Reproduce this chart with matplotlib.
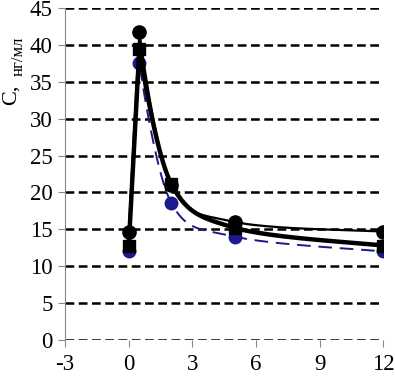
import numpy as np
import matplotlib
matplotlib.use("Agg")
import matplotlib.pyplot as plt

plt.rcParams['font.family'] = ['Liberation Serif', 'DejaVu Serif']
plt.rcParams['axes.unicode_minus'] = False

# time points and concentrations (ng/ml)
t = [0, 0.5, 2, 5, 12]
c_circle = [14.7, 41.7, 21.0, 16.0, 14.7]
c_square = [12.8, 39.5, 21.2, 15.2, 12.8]
c_blue = [12.0, 37.5, 18.6, 14.0, 12.0]

x_ticks = [-3, 0, 3, 6, 9, 12]
y_ticks = list(range(0, 50, 5))

# rough screen scale (px per data unit), smoothing is done in screen space like Excel
SX, SY = 21.2, 7.38


def smooth(x, y, n=40):
    x = np.asarray(x, float) * SX
    y = np.asarray(y, float) * SY
    P = np.column_stack([x, y])
    m = len(P)
    tang = np.zeros_like(P)
    for i in range(m):
        a = P[max(i - 1, 0)]
        b = P[min(i + 1, m - 1)]
        tang[i] = (b - a) / 6
        # keep the peak sharp
        if 0 < i < m - 1 and (y[i] - y[i - 1]) * (y[i + 1] - y[i]) < 0:
            tang[i] = 0
    s = np.linspace(0, 1, n)[:, None]
    xs, ys = [], []
    for i in range(m - 1):
        p1, p2 = P[i], P[i + 1]
        b1 = p1 + tang[i]
        b2 = p2 - tang[i + 1]
        pts = (1 - s) ** 3 * p1 + 3 * (1 - s) ** 2 * s * b1 + 3 * (1 - s) * s ** 2 * b2 + s ** 3 * p2
        xs.extend(pts[:, 0])
        ys.extend(pts[:, 1])
    return np.array(xs) / SX, np.array(ys) / SY


fig = plt.figure(figsize=(3.95, 3.79), dpi=100)
ax = fig.add_axes([0.165, 0.103, 0.805, 0.876])

for yv in y_ticks:
    ax.axhline(yv, color='black', lw=1.8, ls=(0, (3.5, 1.8)), zorder=1)

xb, yb = smooth(t, c_blue)
ax.plot(xb, yb, color='#1a1a8c', lw=1.4, ls=(0, (7, 4)), zorder=2)
ax.plot(t, c_blue, 'o', color='#1a1a8c', ms=9, zorder=3)

xs, ys = smooth(t, c_square)
ax.plot(xs, ys, color='black', lw=3.2, zorder=4)
ax.plot(t, c_square, 's', color='black', ms=9, zorder=5)

xc, yc = smooth(t, c_circle)
ax.plot(xc, yc, color='black', lw=1.6, zorder=6)
ax.plot(t, c_circle, 'o', color='black', ms=9.5, zorder=7)

ax.set_xlim(-3, 12)
ax.set_ylim(0, 45)
ax.set_xticks(x_ticks)
ax.set_yticks(y_ticks)
ax.tick_params(axis='both', labelsize=16.5, direction='out', color='#888888', length=5, width=0.8)
ax.tick_params(axis='x', pad=5)
ax.tick_params(axis='y', pad=4)
for s in ['top', 'right', 'bottom']:
    ax.spines[s].set_visible(False)
ax.spines['left'].set_color('#888888')
ax.spines['left'].set_linewidth(0.8)

fig.text(0.005, 0.723, 'С,', rotation=90, fontsize=16, va='bottom', ha='left')
fig.text(0.026, 0.80, 'нг/мл', rotation=90, fontsize=12, va='bottom', ha='left')

fig.savefig('out.png', dpi=100)
